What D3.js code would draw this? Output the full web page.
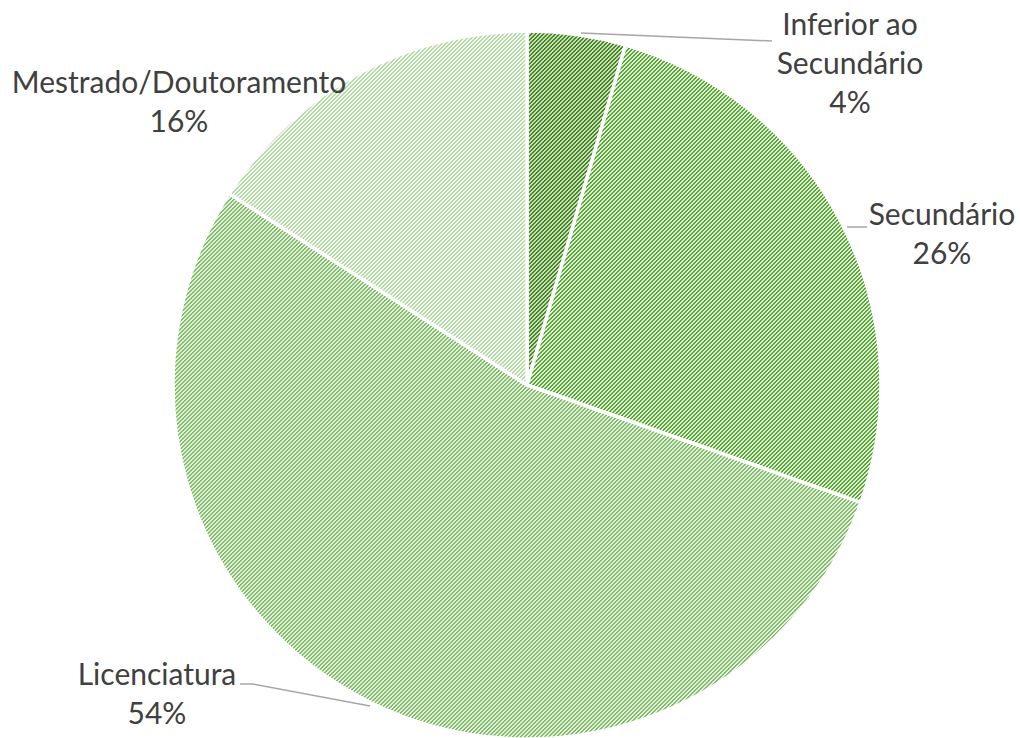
<!DOCTYPE html>
<html>
<head>
<meta charset="utf-8">
<script src="https://cdn.jsdelivr.net/npm/d3@7"></script>
<style>
  html, body { margin: 0; padding: 0; background: #fff; }
  svg text { font-family: Lato, "Open Sans", sans-serif; fill: #404040; }
</style>
</head>
<body>
<div id="chart"></div>
<script>
    // data
    const categories = ['Inferior ao Secundário', 'Secundário', 'Licenciatura', 'Mestrado/Doutoramento'];
    const values = [4.49, 25.9, 53.7, 15.91];
    const labelLines = [['Inferior ao', 'Secundário'], ['Secundário'], ['Licenciatura'], ['Mestrado/Doutoramento']];

    // pattern colours per slice: [foreground stripes, background]
    const stripeColors = ['#4a862a', '#5aa637', '#80bc6a', '#b7d9a9'];
    const backColors = ['#c4e0b2', '#dfefd5', '#e5f1de', '#f3f9f0'];

    const width = 1020;
    const height = 738;
    const cx = 527, cy = 385, radius = 354;

    const svg = d3.select('#chart').append('svg')
      .attr('width', width)
      .attr('height', height);

    const defs = svg.append('defs');
    categories.forEach((c, i) => {
      const p = defs.append('pattern')
        .attr('id', 'pat' + i)
        .attr('patternUnits', 'userSpaceOnUse')
        .attr('width', 4).attr('height', 4);
      p.append('rect').attr('width', 4).attr('height', 4).attr('fill', backColors[i]);
      for (let y = 0; y < 4; y++) {
        for (let x = 0; x < 4; x++) {
          if ((x + y) % 4 < 2) {
            p.append('rect').attr('x', x).attr('y', y).attr('width', 1).attr('height', 1)
              .attr('fill', stripeColors[i]).attr('shape-rendering', 'crispEdges');
          }
        }
      }
    });

    const pie = d3.pie().sort(null).value(d => d);
    const arcs = pie(values);
    const arc = d3.arc().innerRadius(0).outerRadius(radius);
    const total = d3.sum(values);
    const pct = d3.format('.0%');

    const g = svg.append('g').attr('transform', `translate(${cx},${cy})`);
    g.selectAll('path.slice')
      .data(arcs)
      .enter().append('path')
        .attr('class', 'slice')
        .attr('d', arc)
        .attr('fill', (d, i) => `url(#pat${i})`)
        .attr('stroke', '#fff')
        .attr('stroke-width', 3.5)
        .attr('stroke-linejoin', 'round');

    // label placement (centre x, first baseline) and leader lines
    const labelPos = [[850, 35], [942, 225], [157, 685], [179, 93]];
    const leaders = [
      [[581, 33], [772, 41]],
      [[847, 227], [867, 227]],
      [[240, 684], [253, 684], [370, 706]],
      null
    ];
    const lineGap = 39;

    leaders.forEach(pts => {
      if (!pts) return;
      svg.append('path')
        .attr('d', d3.line()(pts))
        .attr('fill', 'none')
        .attr('stroke', '#a6a6a6')
        .attr('stroke-width', 1.5);
    });

    arcs.forEach((d, i) => {
      const [x, y] = labelPos[i];
      const lines = labelLines[i].concat([pct(values[i] / total)]);
      const t = svg.append('text')
        .attr('text-anchor', 'middle')
        .attr('font-size', 30);
      lines.forEach((s, k) => {
        t.append('tspan').attr('x', x).attr('y', y + k * lineGap).text(s);
      });
    });
</script>
</body>
</html>
